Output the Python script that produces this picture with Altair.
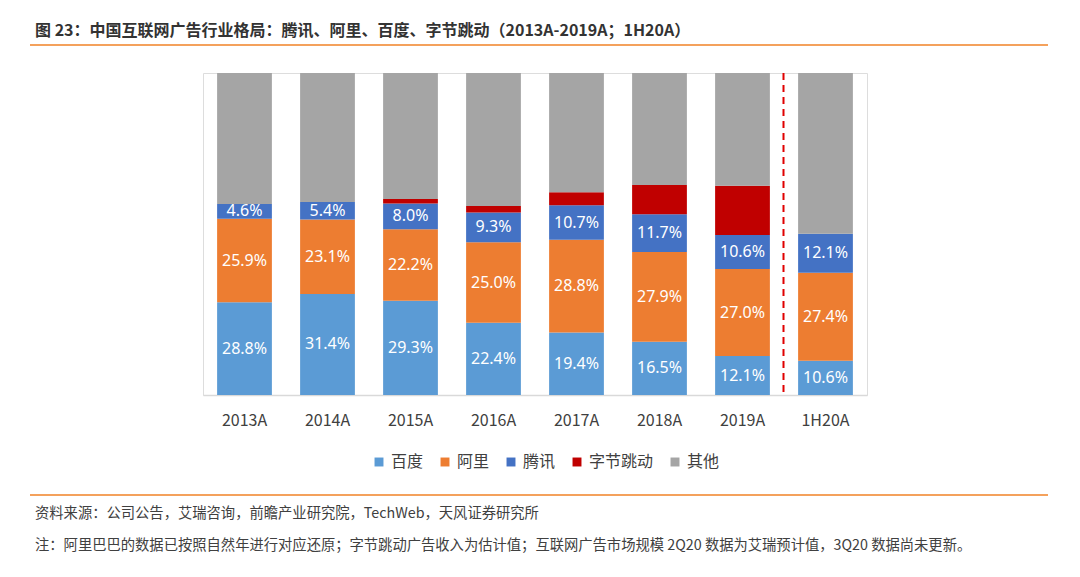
import altair as alt
import pandas as pd

years = ["2013A", "2014A", "2015A", "2016A", "2017A", "2018A", "2019A", "1H20A"]
series = ["百度", "阿里", "腾讯", "字节跳动", "其他"]
baidu = [28.8, 31.4, 29.3, 22.4, 19.4, 16.5, 12.1, 10.6]
ali = [25.9, 23.1, 22.2, 25.0, 28.8, 27.9, 27.0, 27.4]
tencent = [4.6, 5.4, 8.0, 9.3, 10.7, 11.7, 10.6, 12.1]
bytedance = [0.0, 0.0, 1.4, 2.0, 4.1, 9.1, 15.3, 0.0]
colors = ["#5B9BD5", "#ED7D31", "#4472C4", "#C00000", "#A5A5A5"]

title_text = "图 23：中国互联网广告行业格局：腾讯、阿里、百度、字节跳动（2013A-2019A；1H20A）"
source_text = "资料来源：公司公告，艾瑞咨询，前瞻产业研究院，TechWeb，天风证券研究所"
note_text = "注：阿里巴巴的数据已按照自然年进行对应还原；字节跳动广告收入为估计值；互联网广告市场规模 2Q20 数据为艾瑞预计值，3Q20 数据尚未更新。"

rows = []
for i, y in enumerate(years):
    vals = [baidu[i], ali[i], tencent[i], bytedance[i]]
    other = round(100 - sum(vals), 1)
    vals.append(other)
    for k, (s, v) in enumerate(zip(series, vals)):
        rows.append({"year": y, "series": s, "idx": k, "value": v,
                     "label": f"{v:.1f}%"})
df = pd.DataFrame(rows)

FONT = "Noto Sans CJK SC"
W, H = 664, 322
PL, PT = 203, 73

base = alt.Chart(df)

xenc = alt.X("year:N", sort=years,
             scale=alt.Scale(paddingInner=0.34, paddingOuter=0.17),
             axis=alt.Axis(title=None, labelAngle=0, labelFontSize=16,
                           labelColor="#404040", labelFont=FONT,
                           labelPadding=17, ticks=False,
                           domainColor="#D9D9D9", domainWidth=1.5))

bars = base.mark_bar().encode(
    x=xenc,
    y=alt.Y("value:Q", stack="zero", scale=alt.Scale(domain=[0, 100], nice=False),
            axis=None),
    color=alt.Color("series:N", scale=alt.Scale(domain=series, range=colors),
                    legend=alt.Legend(title=None, orient="none", direction="horizontal",
                                      legendX=168, legendY=381, symbolType="square",
                                      symbolSize=80, symbolStrokeWidth=0,
                                      labelFontSize=16, labelFont=FONT,
                                      labelColor="#404040", columnPadding=13,
                                      symbolOffset=0, labelOffset=4)),
    order=alt.Order("idx:Q", sort="ascending"),
)

labels = base.transform_stack(
    stack="value", groupby=["year"], sort=[alt.SortField("idx", order="ascending")],
    as_=["v0", "v1"]
).transform_calculate(
    mid="(datum.v0 + datum.v1) / 2"
).transform_filter(
    "datum.idx < 3 && datum.value > 0"
).mark_text(color="white", fontSize=16, font="Noto Sans").encode(
    x=alt.X("year:N", sort=years),
    y=alt.Y("mid:Q"),
    text="label:N",
)

one = pd.DataFrame({"t": [title_text], "s": [source_text], "n": [note_text]})
deco = alt.Chart(one)

title = deco.mark_text(align="left", baseline="middle", fontSize=16, fontWeight="bold",
                       font=FONT, color="#333333").encode(
    x=alt.value(35 - PL), y=alt.value(31 - PT), text="t:N")
source = deco.mark_text(align="left", baseline="middle", fontSize=14.3,
                        font=FONT, color="#404040").encode(
    x=alt.value(35 - PL), y=alt.value(514 - PT), text="s:N")
note = deco.mark_text(align="left", baseline="middle", fontSize=14.3,
                      font=FONT, color="#404040").encode(
    x=alt.value(35 - PL), y=alt.value(546 - PT), text="n:N")

line_top = deco.mark_rule(color="#F4A15C", strokeWidth=2).encode(
    x=alt.value(30 - PL), x2=alt.value(1048 - PL), y=alt.value(45 - PT))
line_bot = deco.mark_rule(color="#F4A15C", strokeWidth=2).encode(
    x=alt.value(30 - PL), x2=alt.value(1048 - PL), y=alt.value(495 - PT))

divider = deco.mark_rule(color="#E00000", strokeWidth=2, strokeDash=[7, 5]).encode(
    x=alt.value(783.5 - PL), y=alt.value(0), y2=alt.value(H))

chart = alt.layer(bars, labels, divider, title, source, note, line_top, line_bot).properties(
    width=W, height=H,
    padding={"left": PL, "top": PT, "right": 1080 - PL - W, "bottom": 577 - PT - H},
    autosize="none",
).configure_view(stroke=None).configure(background="white")

chart.save("out.html", embed_options={"renderer": "svg", "actions": False})
